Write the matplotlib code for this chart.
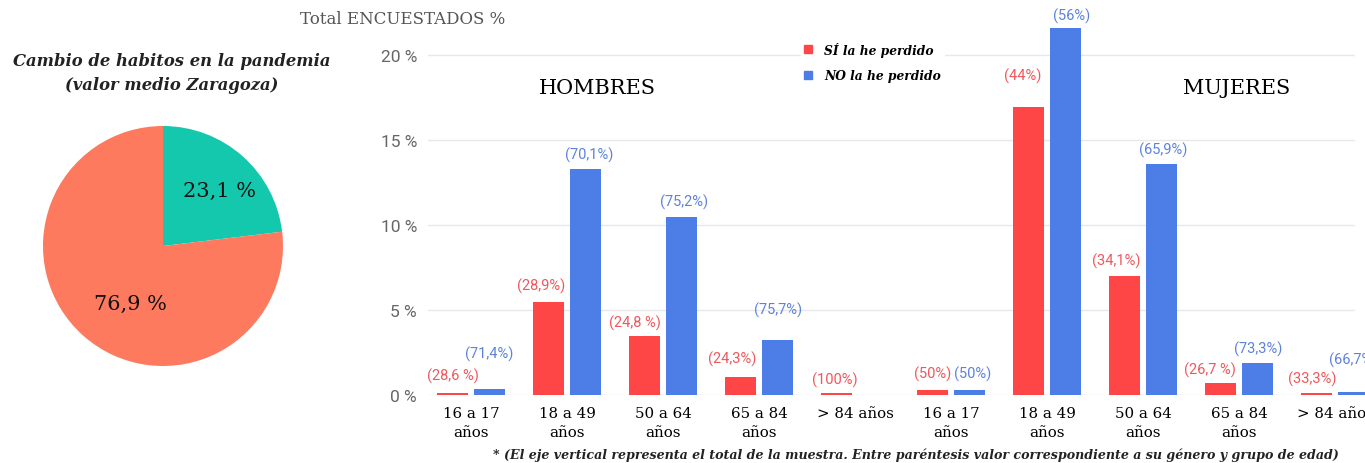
import numpy as np
import matplotlib.pyplot as plt
from matplotlib.lines import Line2D

# grupos de edad: 5 de hombres y 5 de mujeres
grupos = ["16 a 17\naños", "18 a 49\naños", "50 a 64\naños", "65 a 84\naños", "> 84 años"] * 2

# peso de cada grupo sobre el total de encuestados (%)
total_grupo = [0.49, 19.0, 13.96, 4.3, 0.1, 0.54, 38.5, 20.6, 2.58, 0.27]

# reparto dentro de cada grupo (%)
si_perdido = [28.6, 28.9, 24.8, 24.3, 100, 50, 44, 34.1, 26.7, 33.3]
no_perdido = [71.4, 70.1, 75.2, 75.7, 0, 50, 56, 65.9, 73.3, 66.7]

etiq_si = ["(28,6 %)", "(28,9%)", "(24,8 %)", "(24,3%)", "(100%)",
           "(50%)", "(44%)", "(34,1%)", "(26,7 %)", "(33,3%)"]
etiq_no = ["(71,4%)", "(70,1%)", "(75,2%)", "(75,7%)", None,
           "(50%)", "(56%)", "(65,9%)", "(73,3%)", "(66,7%)"]

# tarta de cambio de habitos
tarta = [23.1, 76.9]

ROJO = "#ff4646"
AZUL = "#4d7de6"
ROJO_TXT = "#f0575c"
AZUL_TXT = "#5d82dc"

total_grupo = np.array(total_grupo)
alto_si = total_grupo * np.array(si_perdido) / 100
alto_no = total_grupo * np.array(no_perdido) / 100

# desplazamiento de las etiquetas respecto a la barra (pixeles)
desp_si = [(0, 17), (-7, 16), (-10, 14), (-8, 19), (-2, 14),
           (0, 17), (-6, 32), (-8, 15), (-11, 14), (-4, 15)]
desp_no = [(0, 36), (4, 14), (3, 15), (1, 30), (0, 0),
           (3, 17), (6, 13), (2, 15), (1, 15), (0, 33)]

fig = plt.figure(figsize=(13.65, 4.64), dpi=100)

# --- barras ---
W, H = 1365.0, 464.0
ax = fig.add_axes([428 / W, (H - 396) / H, 927 / W, (396 - 13.5) / H])
x = np.arange(len(grupos))
ancho = 0.32
sep = 0.193
ax.bar(x - sep, alto_si, ancho, color=ROJO, clip_on=False, zorder=3)
ax.bar(x + sep, alto_no, ancho, color=AZUL, clip_on=False, zorder=3)

for i in range(len(x)):
    ax.annotate(etiq_si[i], (x[i] - sep, alto_si[i]), xytext=desp_si[i],
                textcoords="offset pixels", ha="center", va="center",
                color=ROJO_TXT, fontsize=10.5, family="Roboto", annotation_clip=False)
    if etiq_no[i]:
        ax.annotate(etiq_no[i], (x[i] + sep, alto_no[i]), xytext=desp_no[i],
                    textcoords="offset pixels", ha="center", va="center",
                    color=AZUL_TXT, fontsize=10.5, family="Roboto", annotation_clip=False)

ax.set_xlim(-0.448, 9.208)
ax.set_ylim(0, 22.5)
ax.set_yticks([0, 5, 10, 15, 20])
ax.set_yticklabels([f"{v} %" for v in [0, 5, 10, 15, 20]], family="Roboto",
                   fontsize=12.5, color="#666666")
ax.set_xticks(x)
ax.set_xticklabels(grupos, family="DejaVu Serif", fontsize=10.8, linespacing=1.4)
ax.tick_params(length=0)
ax.tick_params(axis="y", pad=8)
ax.tick_params(axis="x", pad=8)
ax.yaxis.grid(True, color="#e8e8e8", lw=1)
ax.set_axisbelow(True)
for s in ax.spines.values():
    s.set_visible(False)

ax.text(597 / W, 1 - 89 / H, "HOMBRES", transform=fig.transFigure, ha="center",
        va="center", family="DejaVu Serif", fontsize=15)
ax.text(1237 / W, 1 - 89 / H, "MUJERES", transform=fig.transFigure, ha="center",
        va="center", family="DejaVu Serif", fontsize=15)

leyenda = [Line2D([], [], marker="s", ls="", color=ROJO, markersize=5.5),
           Line2D([], [], marker="s", ls="", color=AZUL, markersize=5.5)]
lg = fig.legend(leyenda, ["SÍ la he perdido", "NO la he perdido"],
                loc="upper left", bbox_to_anchor=(795 / W, 1 - 34 / H),
                frameon=True, framealpha=1, edgecolor="white", facecolor="white",
                handlelength=0.8, handletextpad=0.9, labelspacing=1.05,
                borderpad=0.2, prop={"family": "DejaVu Serif", "weight": "bold",
                                     "style": "italic", "size": 8.8})

fig.text(300 / W, 1 - 20 / H, "Total ENCUESTADOS %", ha="left", va="center",
         family="DejaVu Serif", fontsize=12, color="#555555")

fig.text(916 / W, 1 - 455 / H,
         "* (El eje vertical representa el total de la muestra. Entre paréntesis "
         "valor correspondiente a su género y grupo de edad)",
         ha="center", va="center", family="DejaVu Serif", weight="bold",
         style="italic", fontsize=9.1, color="#222222")

# --- tarta ---
axp = fig.add_axes([43 / W, (H - 367) / H, 240 / W, 240 / H])
axp.pie(tarta, colors=["#14c8ae", "#fd7a5f"], startangle=90, counterclock=False,
        wedgeprops={"linewidth": 0})
axp.set_xlim(-1, 1)
axp.set_ylim(-1, 1)
axp.set_aspect("equal")
pos_txt = [(0.47, 0.46), (-0.27, -0.48)]
for v, (tx, ty) in zip(tarta, pos_txt):
    axp.text(tx, ty, f"{v:.1f} %".replace(".", ","), ha="center", va="center",
             family="DejaVu Serif", fontsize=15, color="#111111")

fig.text(172 / W, 1 - 73.5 / H, "Cambio de habitos en la pandemia\n(valor medio Zaragoza)",
         ha="center", va="center", family="DejaVu Serif", weight="bold",
         style="italic", fontsize=11.8, color="#222222", linespacing=1.6)

fig.savefig("out.png", dpi=100)
